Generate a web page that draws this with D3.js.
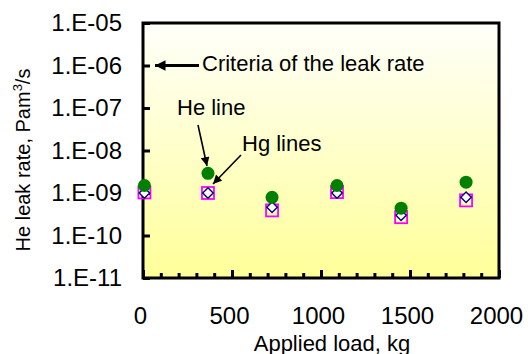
<!DOCTYPE html>
<html>
<head>
<meta charset="utf-8">
<script src="https://cdn.jsdelivr.net/npm/d3@7"></script>
<style>
  body { margin: 0; background: #fff; }
  text { font-family: Arial, "Liberation Sans", sans-serif; fill: #000; }
</style>
</head>
<body>
<svg id="chart" width="528" height="354"></svg>
<script>
// applied load (kg) for each test
var loads = [8, 365, 725, 1090, 1450, 1815];
// He leak rate, green circles
var heRate = [1.5e-9, 2.9e-9, 7.9e-10, 1.5e-9, 4.4e-10, 1.8e-9];
// Hg lines, magenta squares and navy diamonds
var hgSquare = [1.03e-9, 1.0e-9, 3.9e-10, 1.05e-9, 2.7e-10, 6.7e-10];
var hgDiamond = [1.0e-9, 1.0e-9, 4.6e-10, 1.0e-9, 3.0e-10, 7.9e-10];
var criteria = 1e-6;
var xTicks = [0, 500, 1000, 1500, 2000];
var yTicks = [1e-11, 1e-10, 1e-9, 1e-8, 1e-7, 1e-6, 1e-5];

var svg = d3.select("#chart");
var plotLeft = 143, plotRight = 499, plotTop = 23, plotBottom = 278;

var x = d3.scaleLinear().domain([0, 2000]).range([plotLeft, plotRight]);
var y = d3.scaleLog().domain([1e-11, 1e-5]).range([plotBottom, plotTop]);

// background gradient
var defs = svg.append("defs");
var grad = defs.append("linearGradient")
  .attr("id", "bg").attr("x1", 0).attr("y1", 0).attr("x2", 0).attr("y2", 1);
grad.append("stop").attr("offset", "0%").attr("stop-color", "#fffffb");
grad.append("stop").attr("offset", "100%").attr("stop-color", "#ffff99");

svg.append("rect")
  .attr("x", plotLeft).attr("y", plotTop)
  .attr("width", plotRight - plotLeft).attr("height", plotBottom - plotTop)
  .attr("fill", "url(#bg)");

function fmt(d) {
  var e = Math.round(Math.log10(d));
  return "1.E-" + String(-e).padStart(2, "0");
}

//y axis, ticks pointing inside
var yAxis = svg.append("g")
  .attr("transform", "translate(" + plotLeft + ",0)")
  .call(d3.axisLeft(y).tickValues(yTicks).tickFormat(fmt).tickSizeInner(-7).tickSizeOuter(0).tickPadding(21));
yAxis.select(".domain").remove();
yAxis.selectAll("line").attr("stroke", "#000").attr("stroke-width", 3);
yAxis.selectAll("text").attr("font-size", 24).attr("font-family", null);

//x axis minor ticks every 100
var xMinor = svg.append("g")
  .attr("transform", "translate(0," + plotBottom + ")")
  .call(d3.axisBottom(x).tickValues(d3.range(100, 2000, 100)).tickFormat("").tickSizeInner(-5).tickSizeOuter(0));
xMinor.select(".domain").remove();
xMinor.selectAll("line").attr("stroke", "#000").attr("stroke-width", 3);

var xAxis = svg.append("g")
  .attr("transform", "translate(0," + plotBottom + ")")
  .call(d3.axisBottom(x).tickValues(xTicks).tickFormat(function (d) { return String(d); })
    .tickSizeInner(-8).tickSizeOuter(0).tickPadding(29));
xAxis.select(".domain").remove();
xAxis.selectAll("line").attr("stroke", "#000").attr("stroke-width", 3);
xAxis.selectAll("text").attr("font-size", 24).attr("font-family", null).attr("dx", -3);

// frame
svg.append("rect")
  .attr("x", plotLeft).attr("y", plotTop)
  .attr("width", plotRight - plotLeft).attr("height", plotBottom - plotTop)
  .attr("fill", "none").attr("stroke", "#000").attr("stroke-width", 3);

// axis titles
svg.append("text")
  .attr("x", 332).attr("y", 351)
  .attr("text-anchor", "middle").attr("font-size", 22)
  .text("Applied load, kg");

var yTitle = svg.append("text")
  .attr("transform", "translate(30,160) rotate(-90)")
  .attr("text-anchor", "middle").attr("font-size", 20);
yTitle.append("tspan").text("He leak rate, Pam");
yTitle.append("tspan").attr("font-size", 13).attr("dy", -8).text("3");
yTitle.append("tspan").attr("dy", 8).text("/s");

// arrowheads
defs.append("marker").attr("id", "headBig")
  .attr("viewBox", "0 0 10 10").attr("refX", 10).attr("refY", 5)
  .attr("markerWidth", 4.5).attr("markerHeight", 3.5).attr("markerUnits", "strokeWidth")
  .attr("orient", "auto")
  .append("path").attr("d", "M0,0L10,5L0,10Z").attr("fill", "#000");
defs.append("marker").attr("id", "headSmall")
  .attr("viewBox", "0 0 10 10").attr("refX", 10).attr("refY", 5)
  .attr("markerWidth", 6.5).attr("markerHeight", 5.5).attr("markerUnits", "strokeWidth")
  .attr("orient", "auto")
  .append("path").attr("d", "M0,0L10,5L0,10Z").attr("fill", "#000");

// criteria annotation
svg.append("line")
  .attr("x1", 199).attr("y1", y(criteria)).attr("x2", 155).attr("y2", y(criteria))
  .attr("stroke", "#000").attr("stroke-width", 3).attr("marker-end", "url(#headBig)");
svg.append("text").attr("x", 202).attr("y", 71).attr("font-size", 22).text("Criteria of the leak rate");

svg.append("text").attr("x", 177).attr("y", 115).attr("font-size", 22).text("He line");
svg.append("line")
  .attr("x1", 198).attr("y1", 125).attr("x2", 207).attr("y2", 166)
  .attr("stroke", "#000").attr("stroke-width", 1.6).attr("marker-end", "url(#headSmall)");

svg.append("text").attr("x", 242).attr("y", 151).attr("font-size", 22).text("Hg lines");
svg.append("line")
  .attr("x1", 241).attr("y1", 155).attr("x2", 213).attr("y2", 184)
  .attr("stroke", "#000").attr("stroke-width", 1.6).attr("marker-end", "url(#headSmall)");

// markers
svg.append("g").selectAll("rect")
  .data(loads.map(function (l, i) { return [l, hgSquare[i]]; }))
  .enter().append("rect")
  .attr("x", function (d) { return x(d[0]) - 6; })
  .attr("y", function (d) { return y(d[1]) - 6; })
  .attr("width", 12).attr("height", 12)
  .attr("fill", "none").attr("stroke", "#ff00ff").attr("stroke-width", 1.8);

svg.append("g").selectAll("path")
  .data(loads.map(function (l, i) { return [l, hgDiamond[i]]; }))
  .enter().append("path")
  .attr("d", d3.symbol().type(d3.symbolDiamond2).size(70))
  .attr("transform", function (d) { return "translate(" + x(d[0]) + "," + y(d[1]) + ")"; })
  .attr("fill", "#fff").attr("stroke", "#000080").attr("stroke-width", 1.4);

svg.append("g").selectAll("circle")
  .data(loads.map(function (l, i) { return [l, heRate[i]]; }))
  .enter().append("circle")
  .attr("cx", function (d) { return x(d[0]); })
  .attr("cy", function (d) { return y(d[1]); })
  .attr("r", 6.5)
  .attr("fill", "#008000");
</script>
</body>
</html>
